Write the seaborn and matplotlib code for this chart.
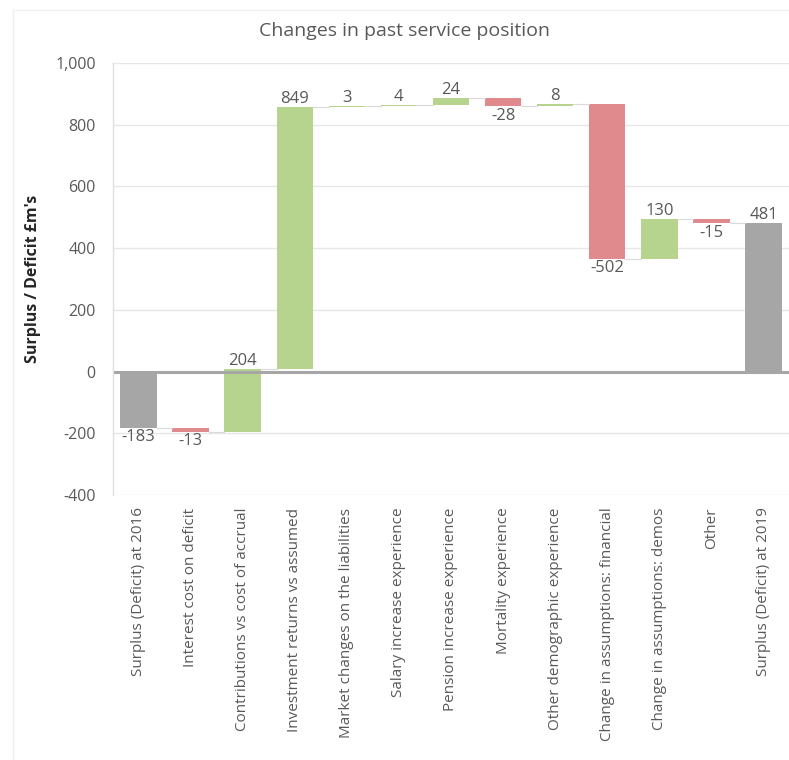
import numpy as np
import pandas as pd
import matplotlib
matplotlib.use("Agg")
import matplotlib.pyplot as plt
import seaborn as sns
from matplotlib.lines import Line2D

categories = [
    "Surplus (Deficit) at 2016",
    "Interest cost on deficit",
    "Contributions vs cost of accrual",
    "Investment returns vs assumed",
    "Market changes on the liabilities",
    "Salary increase experience",
    "Pension increase experience",
    "Mortality experience",
    "Other demographic experience",
    "Change in assumptions: financial",
    "Change in assumptions: demos",
    "Other",
    "Surplus (Deficit) at 2019",
]
values = [-183, -13, 204, 849, 3, 4, 24, -28, 8, -502, 130, -15, 481]
is_total = [True, False, False, False, False, False, False, False, False, False, False, False, True]
yticks = [-400, -200, 0, 200, 400, 600, 800, 1000]

GREY = "#A6A6A6"
RED = "#E08A8E"
GREEN = "#B6D48D"
TXT = "#595959"

# waterfall bottoms
bottoms = []
running = 0
for v, t in zip(values, is_total):
    if t:
        bottoms.append(0)
        running = v
    else:
        bottoms.append(running)
        running += v
ends = [b + v for b, v in zip(bottoms, values)]
colors = [GREY if t else (GREEN if v >= 0 else RED) for v, t in zip(values, is_total)]

df = pd.DataFrame({"category": categories, "value": values})

sns.set_theme(style="white")
plt.rcParams["font.family"] = ["Open Sans", "DejaVu Sans"]

fig = plt.figure(figsize=(7.89, 7.60), dpi=100)
ax = fig.add_axes([112.5 / 789, 1 - 495 / 760, 677 / 789, 432 / 760])

sns.barplot(data=df, x="category", y="value", order=categories, color=GREY,
            width=0.7, ax=ax, errorbar=None, linewidth=0)

for p, b, v, c in zip(ax.patches, bottoms, values, colors):
    p.set_y(b)
    p.set_height(v)
    p.set_facecolor(c)
    p.set_edgecolor("none")

ax.set_ylim(-400, 1000)
ax.set_xlim(-0.5, len(categories) - 0.5)
ax.set_yticks(yticks)
ax.set_yticklabels([f"{t:,}" for t in yticks])
ax.yaxis.grid(True, color="#E7E7E7", linewidth=1)
ax.set_axisbelow(True)
ax.axhline(0, color="#A6A6A6", linewidth=2.2, zorder=1.5)

for s in ["top", "right", "bottom"]:
    ax.spines[s].set_visible(False)
ax.spines["left"].set_color("#E0E0E0")
ax.spines["left"].set_linewidth(1)

# connectors
patches = ax.patches
for i in range(len(patches) - 1):
    x0 = patches[i].get_x() + patches[i].get_width()
    x1 = patches[i + 1].get_x()
    ax.plot([x0, x1], [ends[i], ends[i]], color="#D9D9D9", linewidth=0.8, zorder=1)

# value labels
for p, b, v in zip(patches, bottoms, values):
    xc = p.get_x() + p.get_width() / 2
    top = max(b, b + v)
    low = min(b, b + v)
    if v >= 0:
        ax.annotate(f"{v}", (xc, top), xytext=(0, 0), textcoords="offset points",
                    ha="center", va="bottom", fontsize=12, color=TXT)
    else:
        ax.annotate(f"{v}", (xc, low), xytext=(0, -1), textcoords="offset points",
                    ha="center", va="top", fontsize=12, color=TXT)

ax.tick_params(axis="y", length=0, pad=12, labelsize=11.5, labelcolor=TXT)
ax.tick_params(axis="x", length=0, pad=9, labelsize=11, labelcolor=TXT)
plt.setp(ax.get_xticklabels(), rotation=90)
ax.set_xlabel("")
ax.set_ylabel("Surplus / Deficit £m's", fontsize=11.5, fontweight="bold", color="#262626")
ax.yaxis.set_label_coords(-0.105, 0.5)

fig.text(405 / 789, 1 - 31 / 760, "Changes in past service position", ha="center",
         va="center", fontsize=14, color=TXT)

# faint outer frame
fig.add_artist(Line2D([13 / 789, 13 / 789], [0, 1 - 10 / 760], transform=fig.transFigure,
                      color="#EFEFEF", linewidth=1))
fig.add_artist(Line2D([13 / 789, 1], [1 - 10 / 760, 1 - 10 / 760], transform=fig.transFigure,
                      color="#F2F2F2", linewidth=1))

fig.savefig("out.png", dpi=100)
